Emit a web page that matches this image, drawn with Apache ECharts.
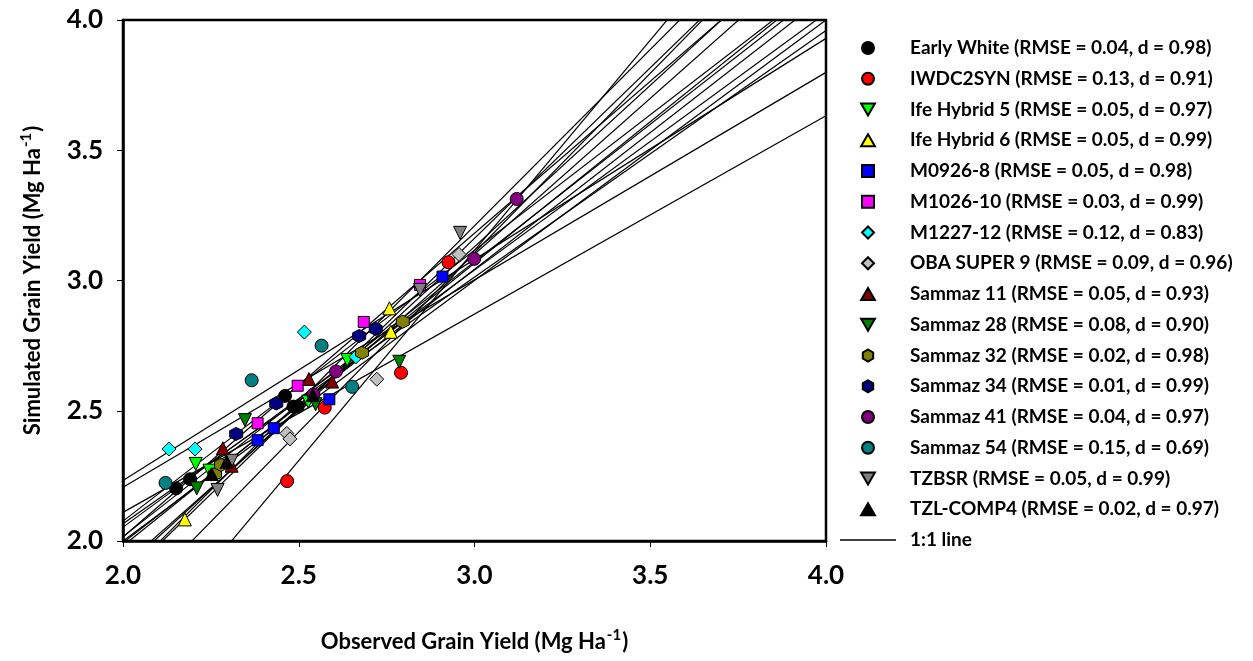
<!DOCTYPE html>
<html>
<head>
<meta charset="utf-8">
<script src="https://cdn.jsdelivr.net/npm/echarts@6/dist/echarts.min.js"></script>
<style>html,body{margin:0;padding:0;background:#fff}#c{width:1253px;height:661px}</style>
</head>
<body>
<div id="c"></div>
<script>
// ---- data ----
const cultivars = ['Early White','IWDC2SYN','Ife Hybrid 5','Ife Hybrid 6','M0926-8','M1026-10','M1227-12','OBA SUPER 9',
  'Sammaz 11','Sammaz 28','Sammaz 32','Sammaz 34','Sammaz 41','Sammaz 54','TZBSR','TZL-COMP4'];
const rmse = ['0.04','0.13','0.05','0.05','0.05','0.03','0.12','0.09','0.05','0.08','0.02','0.01','0.04','0.15','0.05','0.02'];
const dIndex = ['0.98','0.91','0.97','0.99','0.98','0.99','0.83','0.96','0.93','0.90','0.98','0.99','0.97','0.69','0.99','0.97'];
const observed = [
  [2.151, 2.191, 2.461, 2.485, 2.497],
  [2.467, 2.574, 2.791, 2.926],
  [2.207, 2.246, 2.527, 2.638],
  [2.176, 2.758, 2.762],
  [2.383, 2.429, 2.587, 2.909],
  [2.383, 2.497, 2.685, 2.845],
  [2.131, 2.205, 2.516, 2.663],
  [2.466, 2.475, 2.722, 2.956],
  [2.284, 2.309, 2.529, 2.595],
  [2.210, 2.347, 2.548, 2.786],
  [2.262, 2.279, 2.680, 2.796],
  [2.322, 2.436, 2.672, 2.719],
  [2.542, 2.606, 2.999, 3.120],
  [2.121, 2.366, 2.565, 2.652],
  [2.269, 2.309, 2.845, 2.959],
  [2.252, 2.295, 2.540]
];
const simulated = [
  [2.202, 2.237, 2.557, 2.516, 2.516],
  [2.230, 2.512, 2.646, 3.070],
  [2.296, 2.270, 2.535, 2.695],
  [2.083, 2.893, 2.803],
  [2.387, 2.433, 2.544, 3.015],
  [2.452, 2.596, 2.841, 2.983],
  [2.353, 2.353, 2.802, 2.707],
  [2.413, 2.392, 2.621, 3.100],
  [2.356, 2.289, 2.622, 2.612],
  [2.202, 2.464, 2.525, 2.688],
  [2.257, 2.292, 2.723, 2.842],
  [2.411, 2.528, 2.787, 2.814],
  [2.563, 2.651, 3.083, 3.313],
  [2.223, 2.617, 2.750, 2.592],
  [2.196, 2.308, 2.964, 3.183],
  [2.257, 2.304, 2.560]
];
const axisMin = 2.0, axisMax = 4.0, axisStep = 0.5;

// ---- styles ----
const colors = ['#000000','#FF0000','#00FF00','#FFFF00','#0000FF','#FF00FF','#00FFFF','#C0C0C0',
  '#800000','#008000','#808000','#000080','#800080','#008080','#808080','#000000'];
const DOWN = 'path://M0,0 L10,0 L5,8.66 Z';
const UP = 'path://M5,0 L10,8.66 L0,8.66 Z';
const HEX = 'path://M5,0 L9.33,2.5 L9.33,7.5 L5,10 L0.67,7.5 L0.67,2.5 Z';
const SQ = 'path://M0,0 L10,0 L10,10 L0,10 Z';
const DIA = 'path://M5,0 L10,5 L5,10 L0,5 Z';
const symbols = ['circle','circle',DOWN,UP,SQ,SQ,DIA,DIA,UP,DOWN,HEX,HEX,'circle','circle',DOWN,UP];
const sizes = [13,13,13,13,11,11,14,14,13,13,13,13,13,13,13,13];
const FONT = 'Lato';

function fit(xs, ys) {
  const n = xs.length;
  const mx = xs.reduce((s,v)=>s+v,0)/n, my = ys.reduce((s,v)=>s+v,0)/n;
  let sxy = 0, sxx = 0;
  for (let i=0;i<n;i++){ sxy += (xs[i]-mx)*(ys[i]-my); sxx += (xs[i]-mx)*(xs[i]-mx); }
  const b = sxy/sxx, a = my - b*mx;
  return [[axisMin, a + b*axisMin], [axisMax, a + b*axisMax]];
}

const labels = cultivars.map((c,i)=> c + ' (RMSE = ' + rmse[i] + ', d = ' + dIndex[i] + ')');
const series = [];
cultivars.forEach((c,i)=>{
  series.push({
    name: 'fit' + i, type: 'line', data: fit(observed[i], simulated[i]),
    showSymbol: false, symbol: 'none', silent: true, z: 2,
    lineStyle: {color: '#000', width: 1.2}
  });
});
series.push({
  name: '1:1 line', type: 'line', data: [[axisMin, axisMin],[axisMax, axisMax]],
  showSymbol: false, symbol: 'none', silent: true, z: 2,
  lineStyle: {color: '#000', width: 1.2}, itemStyle: {color: '#000'}
});
cultivars.forEach((c,i)=>{
  series.push({
    name: labels[i], type: 'scatter', z: 3,
    data: observed[i].map((x,j)=>[x, simulated[i][j]]),
    symbol: symbols[i], symbolSize: sizes[i],
    itemStyle: {color: colors[i], borderColor: '#000', borderWidth: 1, opacity: 1}
  });
});

const legendData = labels.map((l,i)=>({name: l, icon: symbols[i]}));
legendData.push({name: '1:1 line', icon: 'path://M0,0 L56,0 L56,1.7 L0,1.7 Z'});

const chart = echarts.init(document.getElementById('c'), null, {renderer: 'canvas'});
chart.setOption({
  animation: false,
  backgroundColor: '#fff',
  grid: {left: 123, top: 20, right: 427, bottom: 120, show: true, borderColor: '#000', borderWidth: 2.5, backgroundColor: 'transparent'},
  legend: {
    orient: 'vertical', left: 840, top: 38.5, padding: 0,
    itemWidth: 56, itemHeight: 12, itemGap: 11.75,
    symbolKeepAspect: true,
    data: legendData,
    textStyle: {fontFamily: FONT, fontWeight: 'bold', fontSize: 19, color: '#000', lineHeight: 19, padding: [0,0,0,9]},
    selectedMode: false
  },
  xAxis: {
    type: 'value', min: axisMin, max: axisMax, interval: axisStep,
    name: '{a|Observed Grain Yield (Mg Ha}{s|-1}{a|)}',
    nameLocation: 'middle', nameGap: 87,
    nameTextStyle: {rich: {
      a: {fontFamily: FONT, fontWeight: 'bold', fontSize: 22, color: '#000', lineHeight: 28},
      s: {fontFamily: FONT, fontWeight: 'bold', fontSize: 15, color: '#000', verticalAlign: 'top', lineHeight: 28, padding: [0,1,10,1]}
    }},
    axisLine: {show: true, lineStyle: {color: '#000', width: 2.5}},
    axisTick: {show: true, inside: false, length: 6, lineStyle: {color: '#000', width: 1}},
    axisLabel: {margin: 22, fontFamily: FONT, fontWeight: 'bold', fontSize: 26, color: '#000', formatter: v => v.toFixed(1)},
    splitLine: {show: false}
  },
  yAxis: {
    type: 'value', min: axisMin, max: axisMax, interval: axisStep,
    name: '{a|Simulated Grain Yield (Mg Ha}{s|-1}{a|)}',
    nameLocation: 'middle', nameGap: 76, nameRotate: 90,
    nameTextStyle: {rich: {
      a: {fontFamily: FONT, fontWeight: 'bold', fontSize: 22, color: '#000', lineHeight: 28},
      s: {fontFamily: FONT, fontWeight: 'bold', fontSize: 15, color: '#000', verticalAlign: 'top', lineHeight: 28, padding: [0,1,10,1]}
    }},
    axisLine: {show: true, lineStyle: {color: '#000', width: 2.5}},
    axisTick: {show: true, inside: false, length: 6, lineStyle: {color: '#000', width: 1}},
    axisLabel: {margin: 20, fontFamily: FONT, fontWeight: 'bold', fontSize: 26, color: '#000', formatter: v => v.toFixed(1)},
    splitLine: {show: false}
  },
  series: series
});
</script>
</body>
</html>
